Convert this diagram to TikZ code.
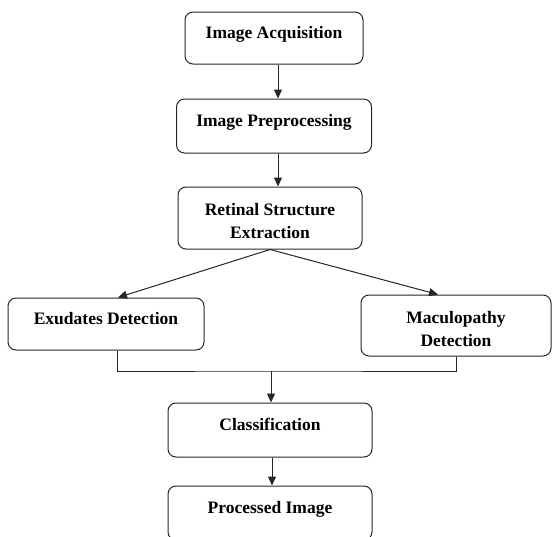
\documentclass[tikz,border=0pt]{standalone}
\usepackage{fontspec}
\setmainfont{Liberation Serif}
\usetikzlibrary{arrows.meta,positioning}
\tikzset{
    %Define standard arrow tip
    >={Triangle[length=9pt,width=8pt]},
    %Define style for boxes
    stagebox/.style={
           rectangle,
           rounded corners=8pt,
           draw=black!85, line width=1pt,
           font=\fontsize{17.5}{23}\selectfont\bfseries,
           align=center,
           inner sep=0pt,
           },
    % single line text sits in the upper half
    upper/.style={
           text height=12pt,
           text depth=12pt,
           },
    % two line text sits a little low
    lower/.style={
           text height=41pt,
           text depth=0pt,
           },
    % Define arrow style
    pil/.style={
           ->,
           line width=1pt,
           draw=black!85,},
}
\begin{document}
\begin{tikzpicture}
\useasboundingbox (0,0) rectangle (552pt,-536pt);

 %nodes
\node[stagebox, upper, minimum width=178pt, minimum height=52pt] (acq) at (274pt,-38pt) {Image Acquisition};
\node[stagebox, upper, below=34pt of acq, minimum width=195pt, minimum height=54pt] (pre) {Image Preprocessing};
\node[stagebox, lower, below=33pt of pre, xshift=-4pt, minimum width=184pt, minimum height=62pt] (ret) {Retinal Structure\\Extraction};
\node[stagebox, upper, minimum width=196pt, minimum height=52pt] (exu) at (106pt,-324pt) {Exudates Detection};
\node[stagebox, lower, minimum width=190pt, minimum height=61pt] (mac) at (456pt,-325.5pt) {Maculopathy\\Detection};
\node[stagebox, upper, minimum width=204pt, minimum height=54pt] (cls) at (270pt,-430pt) {Classification};
\node[stagebox, upper, below=28pt of cls, minimum width=204pt, minimum height=54pt] (out) {Processed Image};
\coordinate (join) at (271pt,-371pt);

 %connectors
\draw[pil] ([xshift=4pt]acq.south) -- ([xshift=4pt]acq.south |- pre.north);
\draw[pil] ([xshift=4pt]pre.south) -- ([xshift=4pt]pre.south |- ret.north);
\draw[pil] (ret.south) -- ([xshift=12pt]exu.north);
\draw[pil] (ret.south) -- ([xshift=-18pt]mac.north);
\draw[line width=1pt, draw=black!85] ([xshift=11pt]exu.south) |- (join) -| (mac.south);
\draw[pil] (join) -- (join |- cls.north);
\draw[pil] ([xshift=2pt]cls.south) -- ([xshift=2pt]cls.south |- out.north);

\end{tikzpicture}
\end{document}
